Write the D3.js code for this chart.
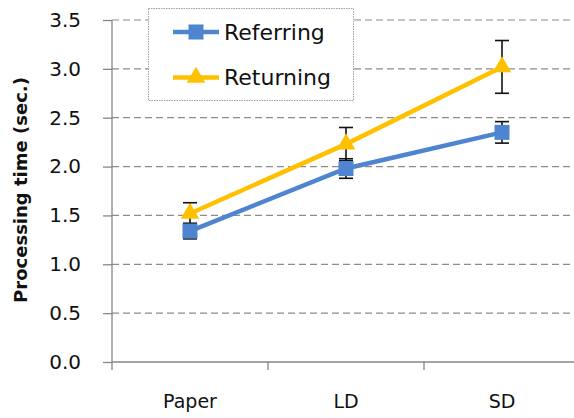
<!DOCTYPE html>
<html>
<head>
<meta charset="utf-8">
<script src="https://cdn.jsdelivr.net/npm/d3@7"></script>
<style>
  html, body { margin: 0; padding: 0; background: #fff; }
  svg { display: block; }
  text { font-family: "DejaVu Sans", Verdana, sans-serif; fill: #111; }
</style>
</head>
<body>
<svg id="chart" width="574" height="418"></svg>
<script>
// Processing time per display condition
const categories = ["Paper", "LD", "SD"];
const referring = [1.34, 1.98, 2.35];
const referringErr = [0.08, 0.10, 0.11];
const returning = [1.52, 2.23, 3.02];
const returningErr = [0.11, 0.17, 0.27];
const yTicks = [0, 0.5, 1.0, 1.5, 2.0, 2.5, 3.0, 3.5];

const series = [
  { name: "Referring", values: referring, err: referringErr, color: "#4F84D0", marker: "square" },
  { name: "Returning", values: returning, err: returningErr, color: "#FFC000", marker: "triangle" }
];

const svg = d3.select("#chart");
const plotLeft = 112, plotRight = 580, plotTop = 20, plotBottom = 362;

const x = d3.scaleBand().domain(categories).range([plotLeft, plotRight]);
const y = d3.scaleLinear().domain([0, 3.5]).range([plotBottom, plotTop]);
const cx = c => x(c) + x.bandwidth() / 2;

// horizontal dashed gridlines
svg.append("g")
  .selectAll("line")
  .data(yTicks.filter(d => d > 0))
  .join("line")
  .attr("x1", plotLeft).attr("x2", 574)
  .attr("y1", d => y(d)).attr("y2", d => y(d))
  .attr("stroke", "#8c8c8c")
  .attr("stroke-width", 1.2)
  .attr("stroke-dasharray", "7,4");

// y axis
const yAxis = svg.append("g")
  .attr("transform", `translate(${plotLeft},0)`)
  .call(d3.axisLeft(y).tickValues(yTicks).tickFormat(d3.format(".1f")).tickSize(9).tickPadding(22));
yAxis.select(".domain").attr("stroke", "#868686").attr("stroke-width", 1.3)
  .attr("d", `M0,${plotTop}V${plotBottom + 8}`);
yAxis.selectAll(".tick line").attr("stroke", "#868686").attr("stroke-width", 1.3);
yAxis.selectAll(".tick text")
  .attr("font-size", 20).attr("fill", "#111")
  .attr("font-family", "DejaVu Sans, Verdana, sans-serif");

// x axis
const xAxis = svg.append("g")
  .attr("transform", `translate(0,${plotBottom})`)
  .call(d3.axisBottom(x).tickSize(0).tickPadding(33));
xAxis.select(".domain").attr("stroke", "#868686").attr("stroke-width", 1.3)
  .attr("d", `M${plotLeft},0H574`);
xAxis.selectAll(".tick text")
  .attr("font-size", 19).attr("fill", "#111")
  .attr("font-family", "DejaVu Sans, Verdana, sans-serif");
// category boundary ticks
xAxis.append("g")
  .selectAll("line")
  .data(categories.slice(1))
  .join("line")
  .attr("x1", d => x(d)).attr("x2", d => x(d))
  .attr("y1", 0).attr("y2", 8)
  .attr("stroke", "#868686").attr("stroke-width", 1.3);

// y axis title
svg.append("text")
  .attr("transform", `translate(27,190) rotate(-90)`)
  .attr("text-anchor", "middle")
  .attr("font-size", 18)
  .attr("font-weight", "bold")
  .text("Processing time (sec.)");

const triangle = d3.symbol().type(d3.symbolTriangle).size(150);

// error bars
series.forEach(s => {
  const g = svg.append("g").attr("stroke", "#111").attr("stroke-width", 1.6);
  categories.forEach((c, i) => {
    const hi = y(s.values[i] + s.err[i]), lo = y(s.values[i] - s.err[i]);
    g.append("line").attr("x1", cx(c)).attr("x2", cx(c)).attr("y1", hi).attr("y2", lo);
    g.append("line").attr("x1", cx(c) - 7).attr("x2", cx(c) + 7).attr("y1", hi).attr("y2", hi);
    g.append("line").attr("x1", cx(c) - 7).attr("x2", cx(c) + 7).attr("y1", lo).attr("y2", lo);
  });
});

// lines and markers
const line = d3.line().x((d, i) => cx(categories[i])).y(d => y(d));
function drawMarker(g, type, px, py, color) {
  if (type === "square") {
    g.append("rect").attr("x", px - 7.5).attr("y", py - 7.5)
      .attr("width", 15).attr("height", 15).attr("fill", color);
  } else {
    g.append("path").attr("d", triangle).attr("transform", `translate(${px},${py})`)
      .attr("fill", color);
  }
}
series.forEach(s => {
  svg.append("path").datum(s.values)
    .attr("d", line).attr("fill", "none")
    .attr("stroke", s.color).attr("stroke-width", 4.5);
  const g = svg.append("g");
  s.values.forEach((v, i) => drawMarker(g, s.marker, cx(categories[i]), y(v), s.color));
});

// legend
const legend = svg.append("g");
legend.append("rect")
  .attr("x", 148.5).attr("y", 8.5).attr("width", 205).attr("height", 92)
  .attr("fill", "#fff").attr("stroke", "#a0a0a0").attr("stroke-width", 1)
  .attr("stroke-dasharray", "1.5,1");
series.forEach((s, i) => {
  const ly = 32 + i * 45.5;
  legend.append("line").attr("x1", 173).attr("x2", 219).attr("y1", ly).attr("y2", ly)
    .attr("stroke", s.color).attr("stroke-width", 4.5);
  drawMarker(legend, s.marker, 196, ly, s.color);
  legend.append("text").attr("x", 224).attr("y", ly).attr("dy", "0.36em")
    .attr("font-size", 22).text(s.name);
});
</script>
</body>
</html>
